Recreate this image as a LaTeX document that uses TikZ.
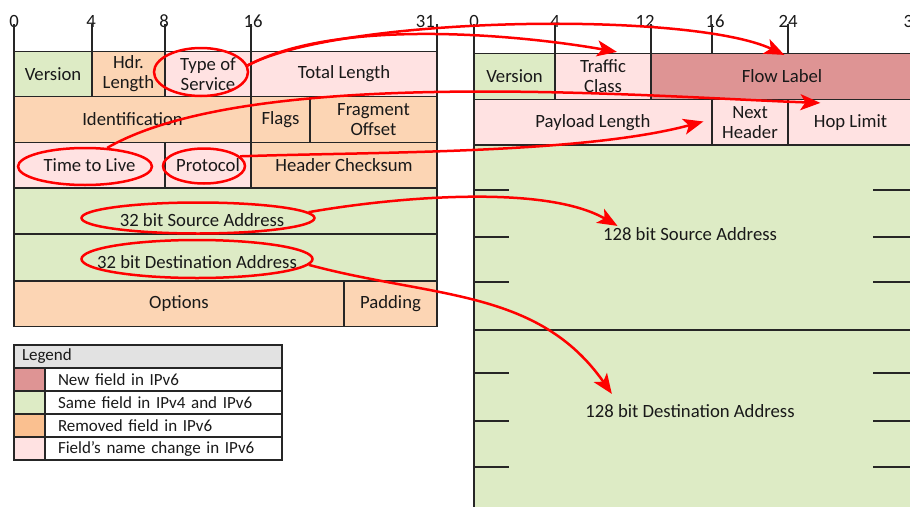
\documentclass[tikz,border=0pt]{standalone}
\usepackage{fontspec}
\setmainfont{Carlito}
\usetikzlibrary{shapes.geometric,arrows.meta,calc}
\definecolor{same}{RGB}{221,235,197}
\definecolor{gone}{RGB}{252,213,180}
\definecolor{gonekey}{RGB}{250,192,144}
\definecolor{renamed}{RGB}{255,226,226}
\definecolor{newfld}{RGB}{222,148,148}
\definecolor{keyhead}{RGB}{226,226,226}

\begin{document}
\begin{tikzpicture}[x=1pt, y=-1pt, font=\fontsize{18.7}{20}\selectfont, text=black!90,
  fld/.style = {draw=black!85, line width=1.2pt, align=center, inner sep=0pt},
  ring/.style = {draw=red, ellipse, line width=2.5pt, inner sep=0pt},
  move/.style = {red, line width=2.5pt, -{Stealth[length=20pt, width=16pt, inset=5pt]}},
  bit/.style = {inner sep=0pt},
  key/.style = {draw=black!85, line width=1.2pt, minimum height=23, text width=211, inner xsep=13, inner ysep=0pt, align=left, font=\fontsize{17}{19}\selectfont}]
\useasboundingbox (0,0) rectangle (910,506);
\clip (0,0) rectangle (910,506);

\node[bit] (l0) at (14,21) {0};
\node[bit] (l4) at (91,21) {4};
\node[bit] (l8) at (164,21) {8};
\node[bit] (l16) at (253,21) {16};
\node[bit, anchor=east] (l31) at (435,21) {31};
\node[bit] (r0) at (474,21) {0};
\node[bit] (r4) at (555,21) {4};
\node[bit] (r12) at (645,21) {12};
\node[bit] (r16) at (715,21) {16};
\node[bit] (r24) at (788,21) {24};
\node[bit] (r32) at (913,21) {32};
\foreach \x in {14,92,165,251,437} \draw[black!85, line width=1.2pt] (\x,24) -- (\x,51);
\foreach \x in {474,555,651,712,788,913} \draw[black!85, line width=1.2pt] (\x,24) -- (\x,53);

\node[fld, fill=same, minimum width=78, minimum height=45] (v4ver) at (53,74) {Version};
\node[fld, fill=gone, minimum width=73, minimum height=45] (ihl) at (128.5,74) {Hdr.\\Length};
\node[fld, fill=renamed, minimum width=86, minimum height=45] (tos) at (208,74) {Type of\\Service};
\node[fld, fill=renamed, minimum width=186, minimum height=45] (totlen) at (344,74) {Total Length};
\node[fld, fill=gone, minimum width=237, minimum height=46] (ident) at (132.5,119.5) {Identification};
\node[fld, fill=gone, minimum width=59, minimum height=46] (flags) at (280.5,119.5) {Flags};
\node[fld, fill=gone, minimum width=127, minimum height=46] (fragoff) at (373.5,119.5) {Fragment\\Offset};
\node[fld, fill=renamed, minimum width=151, minimum height=46] (ttl) at (89.5,165.5) {Time to Live};
\node[fld, fill=renamed, minimum width=86, minimum height=46] (proto) at (208,165.5) {Protocol};
\node[fld, fill=gone, minimum width=186, minimum height=46] (cksum) at (344,165.5) {Header Checksum};
\node[fld, fill=same, minimum width=423, minimum height=46] (v4src) at (225.5,211) {};
\node[fld, fill=same, minimum width=423, minimum height=47] (v4dst) at (225.5,257.5) {};
\node[fld, fill=gone, minimum width=330, minimum height=45] (opts) at (179,304) {Options};
\node[fld, fill=gone, minimum width=93, minimum height=45] (pad) at (390.5,304) {Padding};
\node (src32) at (202,220) {32 bit Source Address};
\node (dst32) at (197,262) {32 bit Destination Address};

\node[fld, fill=same, minimum width=81, minimum height=46] (v6ver) at (514.5,76.5) {Version};
\node[fld, fill=renamed, minimum width=96, minimum height=46] (tclass) at (603,76.5) {Traffic\\Class};
\node[fld, fill=newfld, minimum width=262, minimum height=46] (flow) at (782,76.5) {Flow Label};
\node[fld, fill=renamed, minimum width=238, minimum height=46] (plen) at (593,122.5) {Payload Length};
\node[fld, fill=renamed, minimum width=76, minimum height=46] (nxthdr) at (750,122.5) {Next\\Header};
\node[fld, fill=renamed, minimum width=125, minimum height=46] (hoplim) at (850.5,122.5) {Hop Limit};
\node[fld, fill=same, minimum width=439, minimum height=185] (v6src) at (693.5,237.5) {};
\node[fld, fill=same, minimum width=439, minimum height=185] (v6dst) at (693.5,422.5) {};
\node (src128) at (690,234) {128 bit Source Address};
\node (dst128) at (690,411) {128 bit Destination Address};
\foreach \y in {190,237,282,373,421,467} {
  \draw[black!85, line width=1.2pt] (474,\y) -- (509,\y);
  \draw[black!85, line width=1.2pt] (873,\y) -- (913,\y);
}

\node[key, fill=keyhead, minimum width=268, text width=252, inner xsep=8] (keyhd) at (148,356.5) {Legend};
\node[fld, fill=newfld, minimum width=31, minimum height=23] (sw1) at (29.5,379.5) {};
\node[key] (key1) at (163.5,379.5) {New field in IPv6};
\node[fld, fill=same, minimum width=31, minimum height=23] (sw2) at (29.5,402.5) {};
\node[key] (key2) at (163.5,402.5) {Same field in IPv4 and IPv6};
\node[fld, fill=gonekey, minimum width=31, minimum height=23] (sw3) at (29.5,425.5) {};
\node[key] (key3) at (163.5,425.5) {Removed field in IPv6};
\node[fld, fill=renamed, minimum width=31, minimum height=23] (sw4) at (29.5,448.5) {};
\node[key] (key4) at (163.5,448.5) {Field’s name change in IPv6};
\draw[black!85, line width=1.6pt] (keyhd.north west) rectangle (key4.south east);

\node[ring, minimum width=94, minimum height=48] (tosring) at (201,72) {};
\node[ring, minimum width=134, minimum height=37] (ttlring) at (85,166.5) {};
\node[ring, minimum width=82, minimum height=35] (proring) at (204,166) {};
\node[ring, minimum width=233, minimum height=31] (srcring) at (198,218) {};
\node[ring, minimum width=231, minimum height=38] (dstring) at (197,259) {};

\draw[move] (tosring.8) to[out=28, in=170, looseness=0.7] ($(tclass.north)+(14,-1)$);
\draw[move] (tosring.8) to[out=28, in=155, looseness=0.5] ($(flow.north west)+(134,2)$);
\draw[move] (ttlring.40) to[out=30, in=178, looseness=0.6] ($(hoplim.north west)+(33,4)$);
\draw[move] (proring.15) to[out=2, in=195, looseness=0.7] ($(nxthdr.west)+(-8,-1)$);
\draw[move] (srcring.3) to[out=10, in=150, looseness=0.7] ($(src128.north west)+(18,2)$);
\draw[move] (dstring.-3) to[out=-15, in=125] ($(dst128.north west)+(30,-7)$);
\end{tikzpicture}
\end{document}
